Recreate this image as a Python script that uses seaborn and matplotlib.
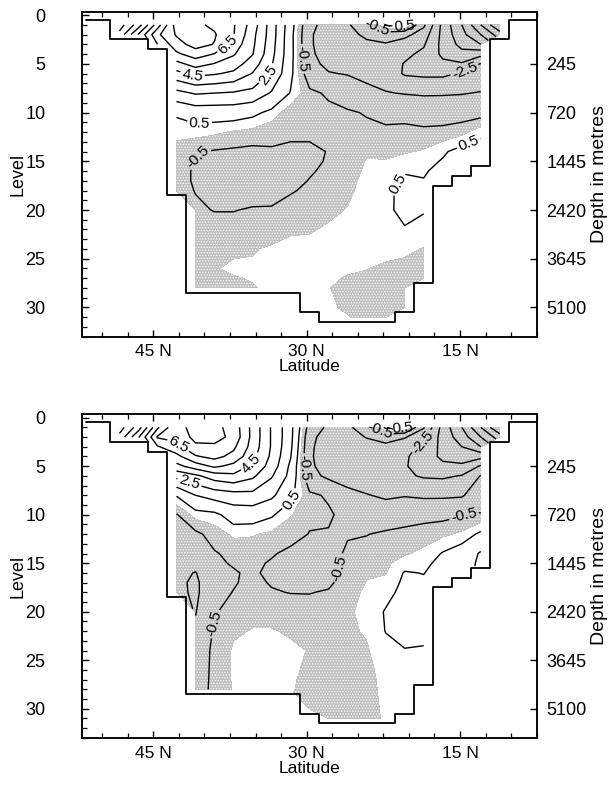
import numpy as np
import matplotlib
matplotlib.use("Agg")
import matplotlib.pyplot as plt
import seaborn as sns
from matplotlib.ticker import MultipleLocator, FixedLocator

sns.set_theme(style="ticks")
plt.rcParams['font.family'] = ['Liberation Sans', 'DejaVu Sans']
plt.rcParams['contour.negative_linestyle'] = 'solid'
plt.rcParams['hatch.color'] = '#767676'
plt.rcParams['hatch.linewidth'] = 0.6
plt.rcParams['axes.labelcolor'] = 'black'

LAT_CENTRES = [48.31, 46.45, 44.59, 42.73, 40.87, 39.01, 37.15, 35.29, 33.43, 31.57, 29.71,
               27.85, 25.99, 24.13, 22.27, 20.41, 18.55, 16.69, 14.83, 12.97, 11.11]
LEVEL_ROWS = [1, 2, 3, 4, 5, 6, 8, 10, 12, 14, 15, 16, 17, 18, 20, 22, 24, 26, 27, 28, 30, 31]

# bottom topography (step outline)
OUTLINE_LAT = [51.6, 49.24, 49.24, 45.52, 45.52, 43.66, 43.66, 41.8, 41.8, 30.64, 30.64, 28.78,
               28.78, 21.34, 21.34, 19.48, 19.48, 17.62, 17.62, 15.76, 15.76, 13.9, 13.9, 12.04,
               12.04, 10.18, 10.18, 7.6]
OUTLINE_LEVEL = [0.5, 0.5, 2.5, 2.5, 3.5, 3.5, 18.5, 18.5, 28.5, 28.5, 30.5, 30.5,
                 31.5, 31.5, 30.5, 30.5, 27.5, 27.5, 17.5, 17.5, 16.5, 16.5, 15.5, 15.5,
                 2.5, 2.5, 0.5, 0.5]

DEPTH_TICKS = [5, 10, 15, 20, 25, 30]
DEPTH_LABELS = ['245', '720', '1445', '2420', '3645', '5100']
LAT_TICKS = [45, 30, 15]
LAT_LABELS = ['45 N', '30 N', '15 N']

# one profile per column (level 1 downwards, ocean points only)
TOP_PROFILES = [
    [0.0, 0.8],
    [2.0, 3.6],
    [5.0, 6.3, 5.5],
    [8.0, 7.6, 7.1, 6.3, 5.2, 4.2, 2.2, 0.6, 0.2, -0.25, -0.3, -0.35, -0.35, -0.3],
    [7.7, 8.1, 7.9, 7.0, 5.9, 4.8, 2.6, 0.9, 0.2, -0.45, -0.52, -0.55, -0.55, -0.52,
     -0.42, -0.3, -0.25, -0.2, -0.2, -0.2],
    [7.3, 7.6, 7.45, 6.45, 5.45, 4.6, 2.5, 0.9, 0.1, -0.55, -0.6, -0.65, -0.65, -0.65,
     -0.52, -0.3, -0.15, -0.02, -0.06, -0.12],
    [6.6, 6.55, 6.1, 5.6, 5.0, 4.3, 2.4, 0.9, -0.05, -0.6, -0.7, -0.75, -0.75, -0.7,
     -0.52, -0.3, -0.05, 0.05, -0.02, -0.06],
    [5.05, 4.8, 4.7, 4.55, 4.0, 3.45, 2.2, 0.7, -0.15, -0.65, -0.75, -0.8, -0.8, -0.75,
     -0.45, -0.25, -0.03, 0.05, 0.02, -0.02],
    [3.0, 3.0, 2.9, 2.8, 2.6, 2.4, 1.4, 0.3, -0.35, -0.55, -0.65, -0.75, -0.75, -0.7,
     -0.45, -0.2, 0.06, 0.1, 0.1, 0.06],
    [0.9, 0.8, 0.8, 0.8, 0.75, 0.7, 0.45, -0.3, -0.4, -0.6, -0.68, -0.72, -0.65, -0.55,
     -0.3, -0.05, 0.1, 0.15, 0.15, 0.1],
    [-1.3, -1.4, -1.4, -1.35, -1.25, -1.0, -0.35, -0.25, -0.4, -0.6, -0.62, -0.55, -0.48, -0.4,
     -0.2, -0.03, 0.1, 0.08, 0.06, 0.05, 0.03],
    [-1.8, -1.9, -1.9, -1.85, -1.7, -1.45, -0.6, -0.35, -0.35, -0.48, -0.45, -0.4, -0.35, -0.3,
     -0.08, 0.05, 0.1, 0.05, 0.02, 0.01, 0.05, 0.05],
    [-1.6, -1.8, -1.9, -1.9, -1.8, -1.55, -0.9, -0.42, -0.3, -0.2, -0.16, -0.12, -0.1, -0.08,
     0.02, 0.1, 0.1, 0.02, -0.01, -0.08, -0.05, 0.02],
    [-0.9, -1.3, -1.7, -1.9, -1.9, -1.7, -1.3, -0.55, -0.35, -0.05, 0.02, 0.05, 0.1, 0.15,
     0.2, 0.15, 0.05, 0.01, -0.05, -0.15, -0.2, -0.1],
    [0.6, -0.9, -1.6, -1.9, -2.05, -1.95, -1.45, -0.75, -0.35, -0.08, 0.02, 0.1, 0.2, 0.3,
     0.35, 0.3, 0.1, -0.05, -0.1, -0.2, -0.25, -0.15],
    [0.8, -1.2, -2.0, -2.3, -2.55, -2.6, -1.55, -0.7, -0.35, -0.05, 0.2, 0.45, 0.6, 0.75,
     0.7, 0.45, 0.08, -0.1, -0.15, -0.2, -0.2],
    [-1.3, -2.0, -2.4, -2.7, -2.9, -2.7, -1.6, -0.9, -0.35, 0.05, 0.3, 0.45, 0.52, 0.6,
     0.55, 0.3, -0.02, -0.15, -0.2],
    [-3.8, -3.8, -3.8, -3.7, -3.3, -2.7, -1.6, -0.8, -0.35, 0.4, 0.55, 0.65, 0.7],
    [-5.5, -5.2, -4.8, -4.2, -3.4, -2.4, -1.55, -0.85, -0.15, 0.75, 0.9, 0.9],
    [-7.5, -6.5, -5.5, -3.8, -2.45, -2.1, -1.45, -0.8, 0.3, 0.9, 1.0],
    [-9.5, -8.0],
]

BOTTOM_PROFILES = [
    [0.0, 0.8],
    [2.0, 3.4],
    [5.3, 6.6, 5.4],
    [7.4, 6.8, 6.2, 5.2, 4.2, 2.8, 0.55, -0.55, -0.9, -1.05, -1.1, -1.2, -1.25, -1.2],
    [7.6, 7.8, 7.3, 6.4, 5.0, 3.3, 1.5, 0.2, -0.65, -0.95, -1.1, -1.55, -1.7, -1.7,
     -1.55, -1.3, -1.1, -1.0, -0.95, -0.9],
    [7.8, 7.9, 7.3, 6.8, 5.7, 4.0, 1.9, 0.3, -0.25, -0.55, -0.6, -0.7, -0.7, -0.7,
     -0.55, -0.4, -0.3, -0.3, -0.3, -0.3],
    [7.1, 7.2, 6.7, 6.2, 5.2, 4.3, 2.1, 0.9, 0.1, -0.35, -0.45, -0.55, -0.55, -0.48,
     -0.3, -0.05, 0.05, 0.06, 0.05, 0.03],
    [5.2, 5.2, 5.1, 4.8, 4.3, 3.7, 2.2, 0.9, 0.05, -0.3, -0.4, -0.4, -0.35, -0.3,
     -0.1, 0.02, 0.15, 0.2, 0.2, 0.15],
    [3.4, 3.4, 3.4, 3.3, 3.1, 2.6, 1.7, 0.6, -0.1, -0.45, -0.55, -0.65, -0.55, -0.45,
     -0.15, 0.03, 0.15, 0.2, 0.2, 0.15],
    [1.8, 1.8, 1.7, 1.55, 1.3, 1.2, 0.7, 0.05, -0.3, -0.62, -0.7, -0.75, -0.7, -0.52,
     -0.2, -0.05, 0.08, 0.05, 0.04, 0.03],
    [-0.9, -1.2, -1.3, -1.35, -1.3, -1.2, -0.35, -0.4, -0.52, -0.75, -0.8, -0.8, -0.75, -0.52,
     -0.3, -0.1, -0.02, -0.05, -0.08, -0.1, -0.15],
    [-1.7, -2.0, -2.1, -2.1, -2.0, -1.7, -0.6, -0.4, -0.55, -0.75, -0.75, -0.7, -0.6, -0.45,
     -0.3, -0.2, -0.15, -0.15, -0.15, -0.15, -0.2, -0.2],
    [-1.6, -1.9, -2.0, -2.0, -2.0, -1.8, -1.3, -0.75, -0.55, -0.4, -0.35, -0.3, -0.25, -0.2,
     -0.08, -0.08, -0.1, -0.12, -0.12, -0.12, -0.12, -0.1],
    [-1.2, -1.45, -1.9, -2.1, -2.2, -2.1, -1.45, -0.9, -0.52, -0.3, -0.2, -0.05, 0.02, 0.1,
     0.15, 0.05, -0.05, -0.1, -0.1, -0.1, -0.1, -0.08],
    [0.7, -1.0, -1.8, -2.1, -2.3, -2.3, -1.65, -0.95, -0.4, -0.2, -0.1, -0.02, 0.1, 0.3,
     0.55, 0.52, 0.3, 0.15, 0.1, 0.08, 0.05, 0.03],
    [0.8, -1.4, -2.2, -2.35, -2.4, -2.35, -1.55, -0.85, -0.3, -0.05, 0.25, 0.55, 0.65, 0.7,
     0.75, 0.65, 0.48, 0.35, 0.3, 0.25, 0.2],
    [-1.4, -2.3, -2.7, -3.0, -3.0, -2.6, -1.65, -0.75, -0.2, 0.1, 0.35, 0.48, 0.6, 0.7,
     0.75, 0.65, 0.45, 0.3, 0.25],
    [-3.9, -3.9, -3.8, -3.7, -3.3, -2.65, -1.65, -0.7, -0.1, 0.55, 0.7, 0.8, 0.85],
    [-5.5, -5.0, -4.5, -4.0, -3.3, -2.45, -1.6, -0.55, 0.1, 0.9, 1.0, 1.05],
    [-7.5, -6.5, -5.5, -3.8, -2.4, -1.45, -0.9, -0.45, 0.65, 1.6, 1.7],
    [-9.5, -8.0],
]

# where the contour labels sit (lat, level)
TOP_LABEL_SPOTS = [(37.8, 2.9), (41.2, 6.3), (34.0, 5.8), (40.5, 10.9), (30.3, 4.5),
                   (23.3, 1.6), (20.4, 1.1), (14.6, 5.6), (14.2, 13.0), (40.6, 14.6),
                   (21.3, 17.2)]
BOTTOM_LABEL_SPOTS = [(42.3, 2.5), (35.3, 4.8), (41.5, 6.8), (31.3, 8.6), (30.2, 5.2),
                      (23.0, 1.6), (20.6, 1.1), (18.6, 2.6), (14.6, 10.2), (26.8, 15.5),
                      (39.2, 21.2)]

LINE_LEVELS = np.arange(-9.5, 9.0, 1.0)
SHADE = '#bfbfbf'


def draw_section(ax, profiles, label_spots):
    grid = np.full((len(LEVEL_ROWS), len(LAT_CENTRES)), np.nan)
    for j, prof in enumerate(profiles):
        grid[:len(prof), j] = prof
    field = np.ma.masked_invalid(grid)

    ax.set_xlim(52, 7.5)
    ax.set_ylim(33, -0.35)

    # negative values are stippled grey
    ax.contourf(LAT_CENTRES, LEVEL_ROWS, field, levels=[-20, 0], colors=[SHADE],
                hatches=['......'])
    cs = ax.contour(LAT_CENTRES, LEVEL_ROWS, field, levels=LINE_LEVELS,
                    colors='black', linewidths=1.0, linestyles='solid')
    ax.clabel(cs, manual=label_spots, fmt='%.1f', fontsize=11,
              inline=True, inline_spacing=2)

    sns.lineplot(x=OUTLINE_LAT, y=OUTLINE_LEVEL, sort=False, estimator=None,
                 color='black', linewidth=1.3, ax=ax)
    ax.set_xlim(52, 7.5)
    ax.set_ylim(33, -0.35)

    ax.xaxis.set_major_locator(FixedLocator(LAT_TICKS))
    ax.set_xticklabels(LAT_LABELS)
    ax.xaxis.set_minor_locator(MultipleLocator(2.5))
    ax.yaxis.set_major_locator(MultipleLocator(5))
    ax.yaxis.set_minor_locator(MultipleLocator(1))
    ax.tick_params(axis='x', which='both', direction='in', top=True, bottom=True,
                   labelsize=12.5, pad=5.5, colors='black')
    ax.tick_params(axis='x', which='major', length=5, width=1.0)
    ax.tick_params(axis='x', which='minor', length=3.5, width=0.9)
    ax.tick_params(axis='y', which='both', direction='in', left=True, right=False,
                   labelsize=13, pad=26, colors='black')
    ax.tick_params(axis='y', which='major', length=5, width=1.0)
    ax.tick_params(axis='y', which='minor', length=3.5, width=0.9)
    ax.set_xlabel('Latitude', fontsize=12.5, labelpad=0, color='black')
    ax.set_ylabel('Level', fontsize=13, labelpad=-1, color='black')
    for sp in ax.spines.values():
        sp.set_color('black')
        sp.set_linewidth(1.1)

    axr = ax.twinx()
    axr.set_ylim(33, -0.35)
    axr.set_yticks(DEPTH_TICKS)
    axr.set_yticklabels(DEPTH_LABELS)
    axr.tick_params(axis='y', which='both', direction='in', length=5, width=1.0,
                    labelsize=13, pad=7, colors='black')
    axr.set_ylabel('Depth in metres', fontsize=14, labelpad=3, color='black')
    for sp in axr.spines.values():
        sp.set_color('black')
        sp.set_linewidth(1.1)


fig = plt.figure(figsize=(6.11, 7.85), dpi=100)
ax_top = fig.add_axes([0.1337, 0.5711, 0.7447, 0.4140])
ax_bot = fig.add_axes([0.1337, 0.0600, 0.7447, 0.4123])

draw_section(ax_top, TOP_PROFILES, TOP_LABEL_SPOTS)
draw_section(ax_bot, BOTTOM_PROFILES, BOTTOM_LABEL_SPOTS)

fig.savefig('out.png', dpi=100, facecolor='white')
